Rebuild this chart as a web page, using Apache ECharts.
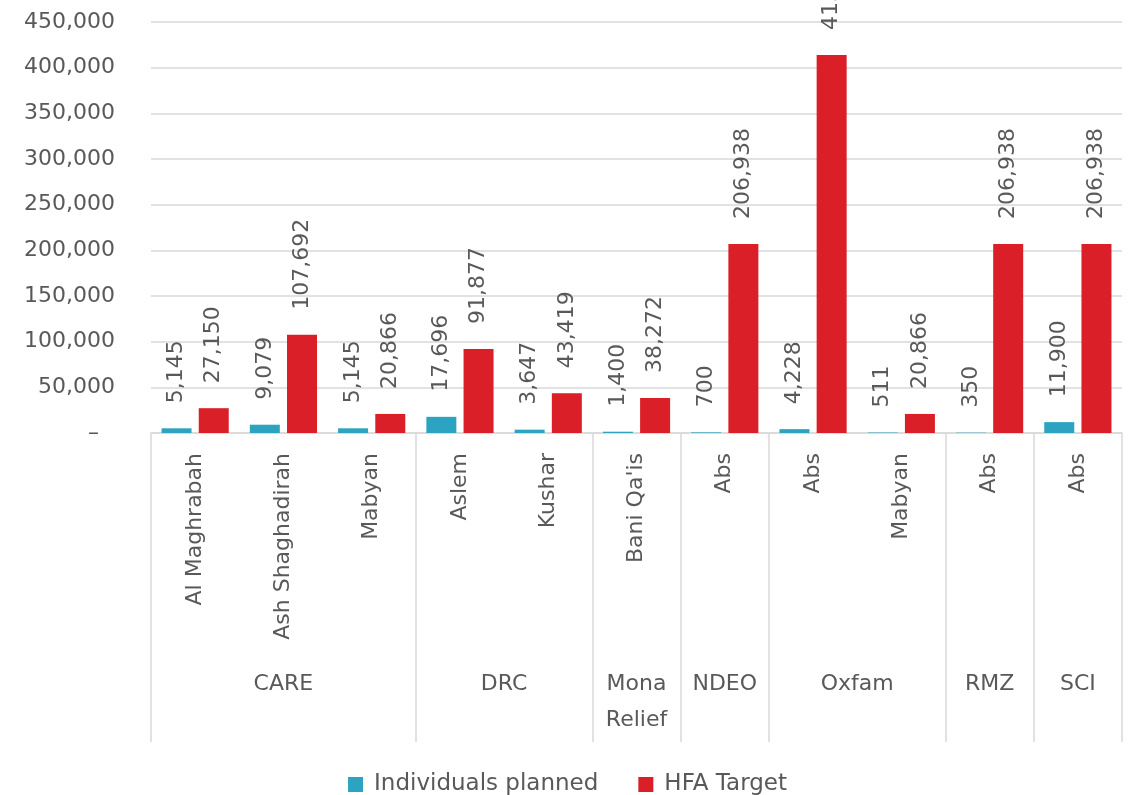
<!DOCTYPE html>
<html><head><meta charset="utf-8">
<script src="https://cdn.jsdelivr.net/npm/echarts@6/dist/echarts.min.js"></script>
<style>html,body{margin:0;padding:0;background:#fff}#c{width:1135px;height:795px}</style>
</head><body><div id="c"></div>
<script>
const categories = ['Al Maghrabah','Ash Shaghadirah','Mabyan','Aslem','Kushar',"Bani Qa'is",'Abs','Abs','Mabyan','Abs','Abs'];
const groups = ['CARE','DRC','Mona\nRelief','NDEO','Oxfam','RMZ','SCI'];
const groupSizes = [3,2,1,1,2,1,1];
const individualsPlanned = [5145,9079,5145,17696,3647,1400,700,4228,511,350,11900];
const hfaTarget = [27150,107692,20866,91877,43419,38272,206938,413876,20866,206938,206938];
const yTicks = [0,50000,100000,150000,200000,250000,300000,350000,400000,450000];

// group boundaries and centres derived from group sizes
const bounds = [0];
groupSizes.forEach(s => bounds.push(bounds[bounds.length-1] + s));
const centres = groupSizes.map((s,i) => bounds[i] + s/2);

const FONT = 'DejaVu Sans';
const TXT = '#595959';
const GRID = '#d9d9d9';
const fmt = v => v.toLocaleString('en-US');

const chart = echarts.init(document.getElementById('c'));
chart.setOption({
  animation: false,
  textStyle: {fontFamily: FONT},
  grid: {left: 151, right: 13, top: 22, bottom: 362, containLabel: false},
  legend: {
    top: 768, left: 'center', itemWidth: 15, itemHeight: 15, itemGap: 40,
    icon: 'rect',
    textStyle: {fontFamily: FONT, fontSize: 23, color: TXT, padding: [0,0,0,6]},
    data: ['Individuals planned','HFA Target']
  },
  xAxis: [{
    type: 'category', data: categories, position: 'bottom',
    axisLine: {lineStyle: {color: GRID, width: 1.5}},
    axisTick: {show: false},
    axisLabel: {rotate: 90, margin: 20, fontSize: 22, color: TXT, fontFamily: FONT}
  },{
    type: 'value', min: 0, max: categories.length, position: 'bottom',
    axisLine: {show: false}, splitLine: {show: false},
    axisTick: {show: true, customValues: bounds, length: 309, lineStyle: {color: GRID, width: 1.5}},
    axisLabel: {
      customValues: centres, margin: 233, fontSize: 22, color: TXT, fontFamily: FONT,
      lineHeight: 36, verticalAlign: 'top',
      formatter: v => { const i = centres.findIndex(c => Math.abs(c - v) < 1e-6); return i >= 0 ? groups[i] : ''; }
    }
  }],
  yAxis: {
    type: 'value', min: 0, max: 450000, interval: 50000,
    axisLine: {show: false}, axisTick: {show: false},
    splitLine: {lineStyle: {color: GRID, width: 1.5}},
    axisLabel: {
      margin: 36, fontSize: 22, color: TXT, fontFamily: FONT,
      formatter: v => v === 0 ? '{z|–}' : fmt(v),
      rich: {z: {fontSize: 22, color: TXT, fontFamily: FONT, padding: [0,16,0,0]}}
    }
  },
  series: [{
    name: 'Individuals planned', type: 'bar', data: individualsPlanned,
    xAxisIndex: 0, barWidth: 30, barGap: '24%',
    itemStyle: {color: '#2ba3c1'},
    label: {show: true, position: 'top', rotate: 90, align: 'left', verticalAlign: 'middle',
      distance: 25, fontSize: 22, color: TXT, fontFamily: FONT, formatter: p => fmt(p.value)}
  },{
    name: 'HFA Target', type: 'bar', data: hfaTarget,
    xAxisIndex: 0, barWidth: 30, barGap: '24%',
    itemStyle: {color: '#da1f28'},
    label: {show: true, position: 'top', rotate: 90, align: 'left', verticalAlign: 'middle',
      distance: 25, fontSize: 22, color: TXT, fontFamily: FONT, formatter: p => fmt(p.value)}
  }]
});
</script></body></html>
